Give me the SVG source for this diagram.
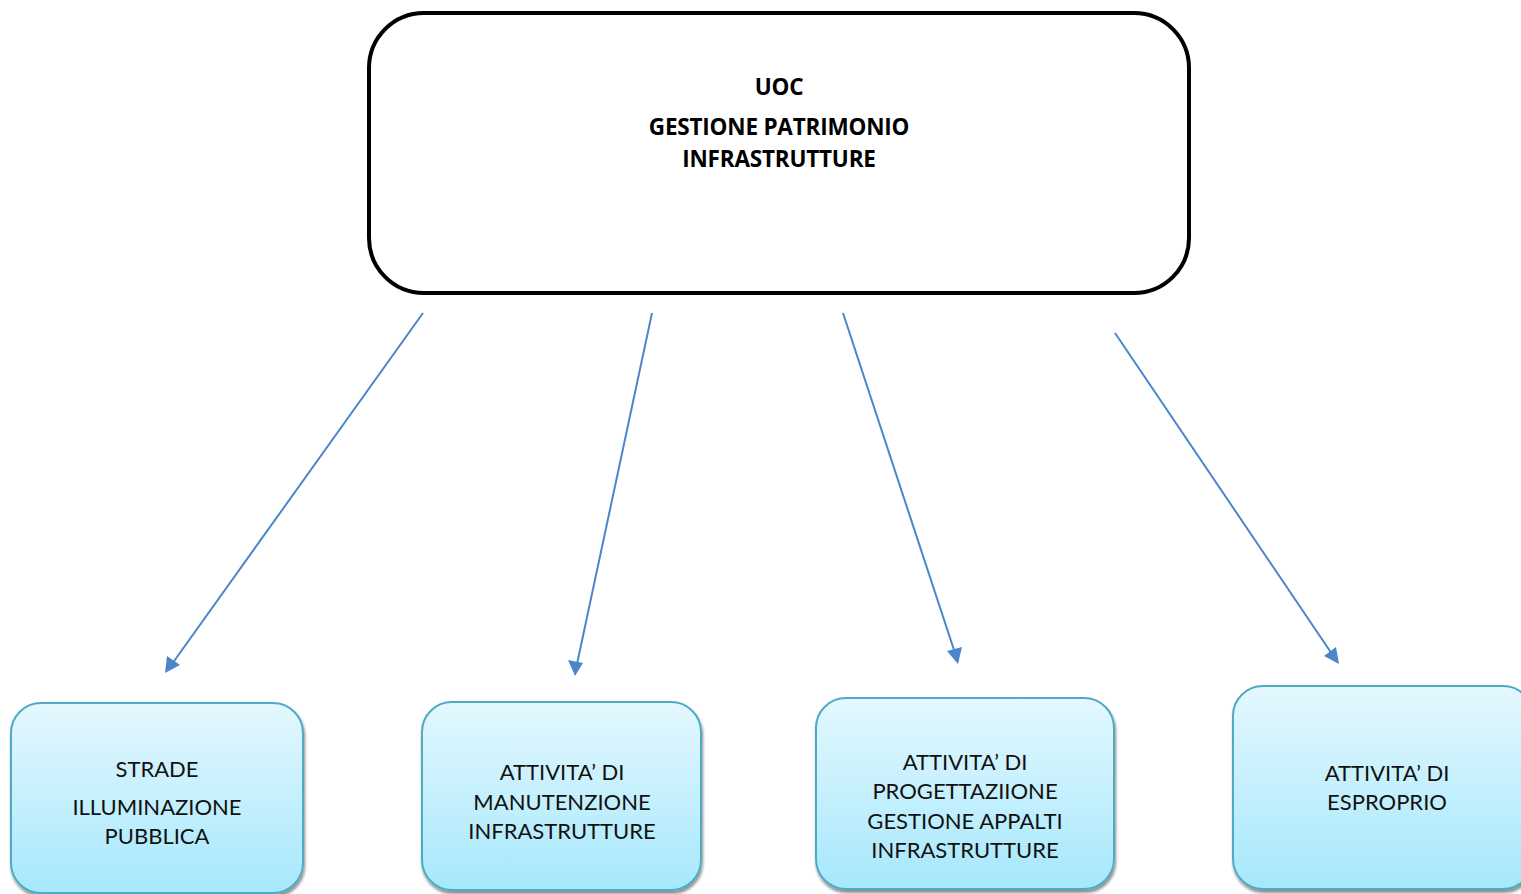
<svg xmlns="http://www.w3.org/2000/svg" width="1521" height="894" viewBox="0 0 1521 894">
<defs>
<linearGradient id="g" x1="0" y1="0" x2="0" y2="1">
<stop offset="0" stop-color="#e4f8fe"/>
<stop offset="1" stop-color="#a6e8fc"/>
</linearGradient>
<filter id="sh" x="-10%" y="-10%" width="120%" height="120%">
<feGaussianBlur in="SourceAlpha" stdDeviation="1.5"/>
<feOffset dx="1" dy="3" result="b"/>
<feComponentTransfer><feFuncA type="linear" slope="0.45"/></feComponentTransfer>
<feMerge><feMergeNode/><feMergeNode in="SourceGraphic"/></feMerge>
</filter>
</defs>
<style>
.box{fill:url(#g);stroke:#4faac6;stroke-width:2;filter:url(#sh)}
.t{font-family:Lato,"Open Sans",sans-serif;font-size:22px;fill:#111;text-anchor:middle}
.h{font-family:"Open Sans",Lato,sans-serif;font-size:22.5px;font-weight:bold;fill:#000;text-anchor:middle;letter-spacing:-0.2px}
.ln{stroke:#4a86c8;stroke-width:2;fill:none}
.hd{fill:#4a86c8}
</style>
<rect width="1521" height="894" fill="#fff"/>
<g id="top">
<rect x="369" y="13" width="820" height="280" rx="55" fill="#fff" stroke="#000" stroke-width="4"/>
<text class="h" x="779" y="95">UOC</text>
<text class="h" x="779" y="135">GESTIONE PATRIMONIO</text>
<text class="h" x="779" y="167">INFRASTRUTTURE</text>
</g>
<g id="connectors">
<path class="ln" d="M423,313 L172,664"/>
<polygon class="hd" points="165,673 167,656 180,665"/>
<path class="ln" d="M652,313 L577,664"/>
<polygon class="hd" points="575,676 568,660 583,663"/>
<path class="ln" d="M843,313 L955,653"/>
<polygon class="hd" points="958,664 947,651 962,647"/>
<path class="ln" d="M1115,333 L1332,654"/>
<polygon class="hd" points="1339,664 1324,656 1336,647"/>
</g>
<g id="n1">
<rect class="box" x="11" y="703" width="292" height="190" rx="30"/>
<text class="t" x="157" y="777">STRADE</text>
<text class="t" x="157" y="815">ILLUMINAZIONE</text>
<text class="t" x="157" y="844">PUBBLICA</text>
</g>
<g id="n2">
<rect class="box" x="422" y="702" width="279" height="188" rx="30"/>
<text class="t" x="562" y="780">ATTIVITA’ DI</text>
<text class="t" x="562" y="810">MANUTENZIONE</text>
<text class="t" x="562" y="839">INFRASTRUTTURE</text>
</g>
<g id="n3">
<rect class="box" x="816" y="698" width="298" height="191" rx="30"/>
<text class="t" x="965" y="770">ATTIVITA’ DI</text>
<text class="t" x="965" y="799">PROGETTAZIIONE</text>
<text class="t" x="965" y="829">GESTIONE APPALTI</text>
<text class="t" x="965" y="858">INFRASTRUTTURE</text>
</g>
<g id="n4">
<rect class="box" x="1233" y="686" width="300" height="203" rx="30"/>
<text class="t" x="1387" y="781">ATTIVITA’ DI</text>
<text class="t" x="1387" y="810">ESPROPRIO</text>
</g>
</svg>
